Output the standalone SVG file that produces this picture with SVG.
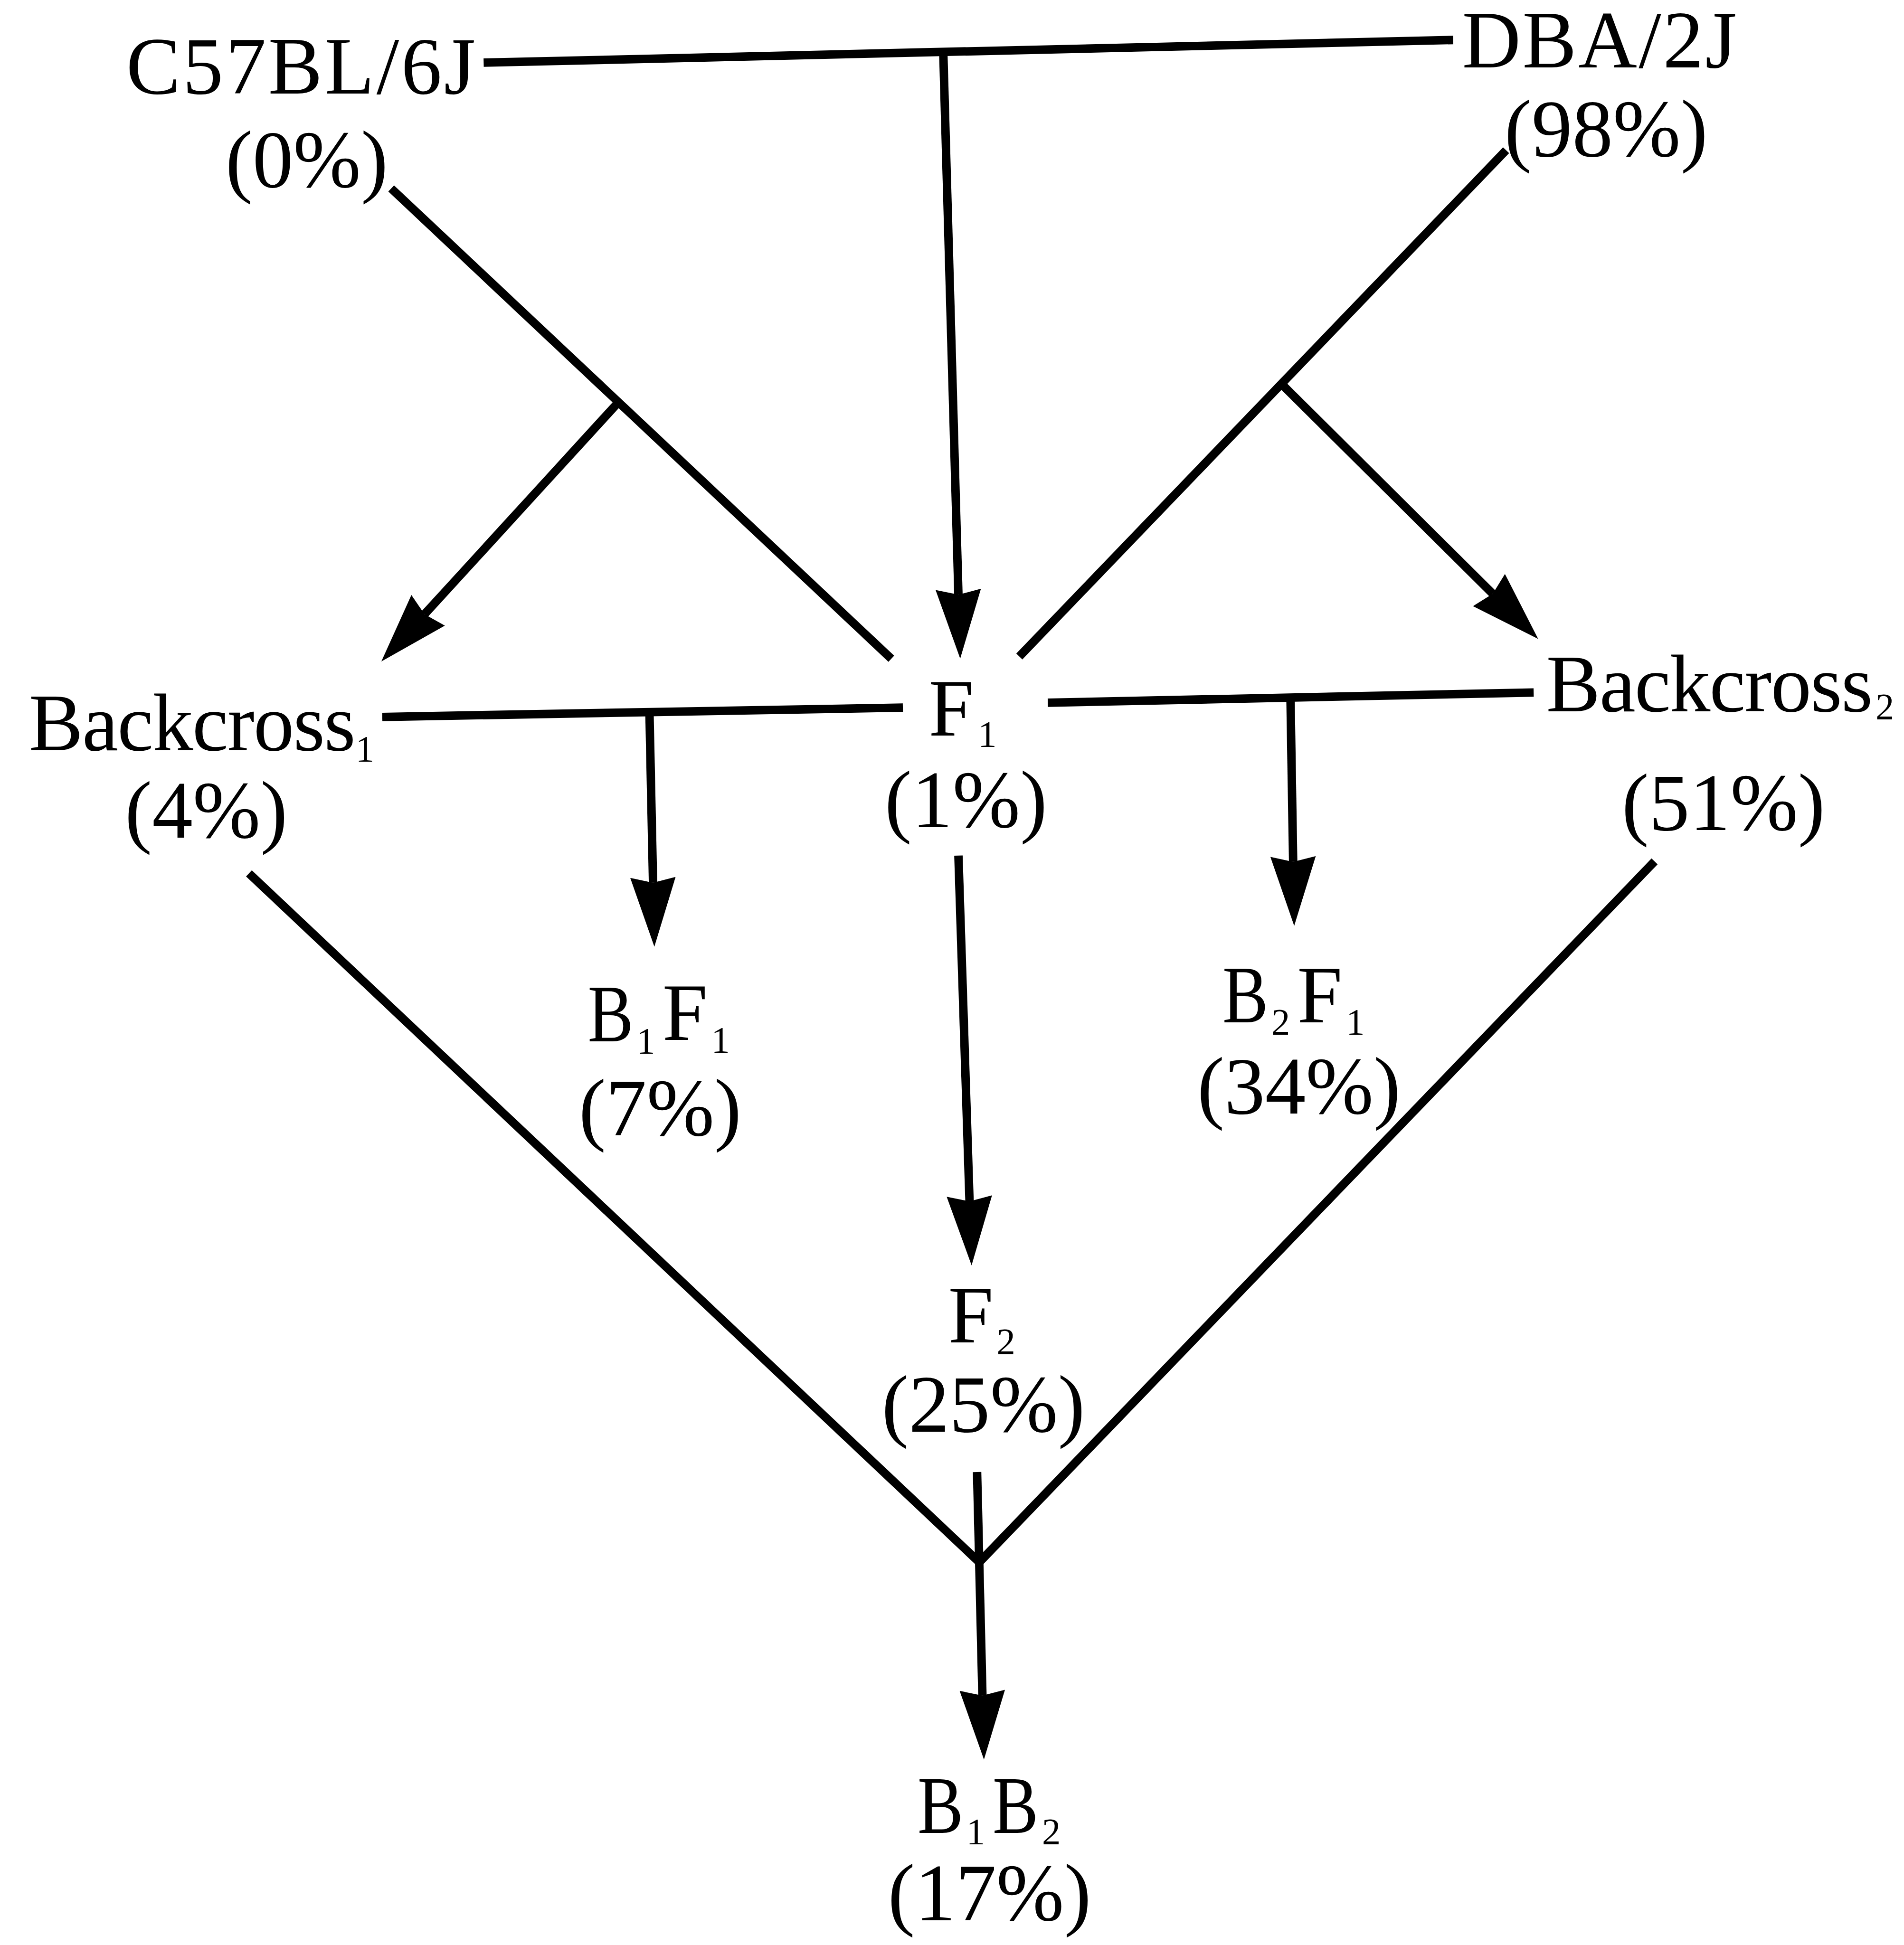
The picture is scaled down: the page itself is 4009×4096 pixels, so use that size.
<svg xmlns="http://www.w3.org/2000/svg" width="4009" height="4096" viewBox="0 0 4009 4096">
  <style>
    text { font-family: "Liberation Serif", "Times New Roman", serif; fill: #000; font-size: 183px; }
    .sub { font-size: 84px; }
    .pct { text-anchor: middle; }
    .ln { stroke: #000; stroke-width: 19; fill: none; stroke-linecap: butt; stroke-linejoin: miter; }
    .arr { marker-end: url(#head); }
  </style>
  <defs>
    <!-- barbed arrowhead, reference point at the notch of its base -->
    <marker id="head" markerUnits="userSpaceOnUse" viewBox="0 0 160 110" markerWidth="160" markerHeight="110" refX="12" refY="55" orient="auto">
      <path d="M0,4 L156,55 L0,106 L12,55 Z" fill="#000"/>
    </marker>
  </defs>
  <rect width="4009" height="4096" fill="#fff"/>
  <g transform="scale(0.936)">
    <g id="connectors">
      <!-- parental cross -->
      <path class="ln" d="M1088,141 L3269,90"/>
      <path class="ln arr" d="M2122,119 L2156,1338"/>
      <!-- backcross to C57BL/6J -->
      <path class="ln" d="M880,424 L2005,1482"/>
      <path class="ln arr" d="M1393,903 L955,1382"/>
      <!-- backcross to DBA/2J -->
      <path class="ln" d="M3388,338 L2293,1477"/>
      <path class="ln arr" d="M2885,866 L3358,1336"/>
      <!-- Backcross1 x F1 -->
      <path class="ln" d="M860,1613 L2031,1592"/>
      <path class="ln arr" d="M1461,1604 L1469,1986"/>
      <!-- F1 x Backcross2 -->
      <path class="ln" d="M2357,1581 L3450,1558"/>
      <path class="ln arr" d="M2903,1570 L2909,1939"/>
      <!-- F1 intercross -->
      <path class="ln arr" d="M2156,1925 L2181,2703"/>
      <!-- Backcross1 x Backcross2 -->
      <path class="ln" d="M560,1965 L2203,3515 L3722,1938"/>
      <path class="ln arr" d="M2198,3312 L2210,3815"/>
    </g>

    <g id="node-c57bl6j">
      <text x="284" y="210" textLength="786" lengthAdjust="spacing">C57BL/6J</text>
      <text class="pct" x="690" y="421">(0%)</text>
    </g>
    <g id="node-dba2j">
      <text x="3289" y="152" textLength="618" lengthAdjust="spacing">DBA/2J</text>
      <text class="pct" x="3613" y="351">(98%)</text>
    </g>
    <g id="node-backcross1">
      <text x="65" y="1688"><tspan textLength="735" lengthAdjust="spacing">Backcross</tspan><tspan class="sub" x="800" y="1713">1</tspan></text>
      <text class="pct" x="464" y="1885">(4%)</text>
    </g>
    <g id="node-f1">
      <text x="2089" y="1655">F<tspan class="sub" x="2200" y="1679">1</tspan></text>
      <text class="pct" x="2173" y="1861">(1%)</text>
    </g>
    <g id="node-backcross2">
      <text x="3478" y="1600"><tspan textLength="735" lengthAdjust="spacing">Backcross</tspan><tspan class="sub" x="4219" y="1618">2</tspan></text>
      <text class="pct" x="3877" y="1868">(51%)</text>
    </g>
    <g id="node-b1f1">
      <text x="1322" y="2343"><tspan textLength="103" lengthAdjust="spacingAndGlyphs">B</tspan><tspan class="sub" x="1432" y="2370">1</tspan><tspan x="1490" y="2340">F</tspan><tspan class="sub" x="1600" y="2367">1</tspan></text>
      <text class="pct" x="1485" y="2554">(7%)</text>
    </g>
    <g id="node-b2f1">
      <text x="2750" y="2300"><tspan textLength="103" lengthAdjust="spacingAndGlyphs">B</tspan><tspan class="sub" x="2860" y="2327">2</tspan><tspan x="2918" y="2300">F</tspan><tspan class="sub" x="3028" y="2327">1</tspan></text>
      <text class="pct" x="2922" y="2505">(34%)</text>
    </g>
    <g id="node-f2">
      <text x="2133" y="3020">F<tspan class="sub" x="2242" y="3046">2</tspan></text>
      <text class="pct" x="2212" y="3221">(25%)</text>
    </g>
    <g id="node-b1b2">
      <text x="2064" y="4124"><tspan textLength="103" lengthAdjust="spacingAndGlyphs">B</tspan><tspan class="sub" x="2174" y="4148">1</tspan><tspan x="2233" y="4124" textLength="103" lengthAdjust="spacingAndGlyphs">B</tspan><tspan class="sub" x="2344" y="4148">2</tspan></text>
      <text class="pct" x="2226" y="4321">(17%)</text>
    </g>
  </g>
</svg>
